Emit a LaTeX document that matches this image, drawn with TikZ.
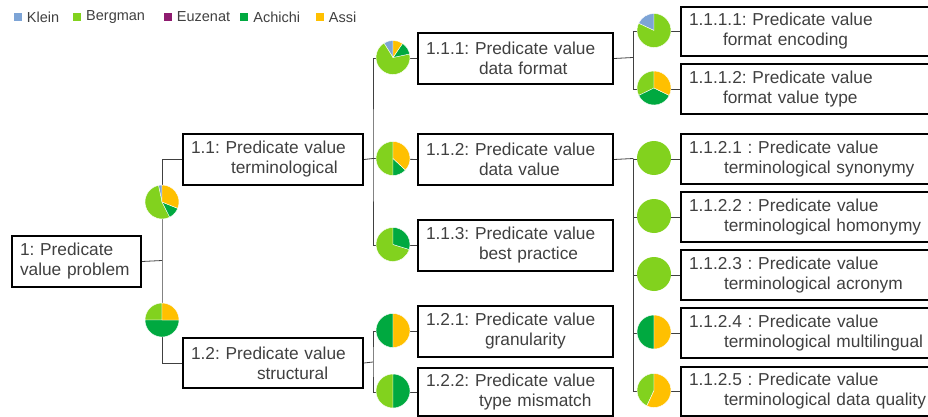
\documentclass[tikz,border=0pt]{standalone}
\usepackage{fontspec}
\setmainfont{Liberation Sans}
\usepackage{tikz}
\usetikzlibrary{positioning}
\frenchspacing

\definecolor{klein}{HTML}{7DA4D6}
\definecolor{bergman}{HTML}{82D21E}
\definecolor{euzenat}{HTML}{8E1B6F}
\definecolor{achichi}{HTML}{00A940}
\definecolor{assi}{HTML}{FFC000}
\definecolor{txt}{HTML}{404040}

\tikzset{
  box/.style={draw=black, line width=2pt, anchor=north west, align=left,
    inner xsep=8pt, inner ysep=0pt, minimum height=51pt, text=txt,
    font=\fontsize{17.3}{20}\selectfont},
  link/.style={draw=txt, line width=0.8pt},
  swatch/.style={minimum size=8pt, inner sep=0pt},
  key/.style={inner sep=0pt, text=txt, font=\fontsize{14.5}{16}\selectfont},
  slice/.style={draw=white, line width=0.4pt}
}

\begin{document}
\begin{tikzpicture}[x=1pt, y=1pt]

    \useasboundingbox (0,0) rectangle (928,-417);
    \clip (0,0) rectangle (928,-417);

    % legend
    \node[swatch, fill=klein] (sklein) at (17.5,-17) {};
    \node[key, right=5pt of sklein] (lklein) {Klein};
    \node[swatch, fill=bergman] (sbergman) at (76.8,-17) {};
    \node[key, right=5pt of sbergman] (lbergman) {Bergman};
    \node[swatch, fill=euzenat] (seuzenat) at (167.5,-17) {};
    \node[key, right=5pt of seuzenat] (leuzenat) {Euzenat};
    \node[swatch, fill=achichi] (sachichi) at (244,-17) {};
    \node[key, right=5pt of sachichi] (lachichi) {Achichi};
    \node[swatch, fill=assi] (sassi) at (319.5,-17) {};
    \node[key, right=5pt of sassi] (lassi) {Assi};

    % problem boxes
    \node[box, text width=113pt] (p1) at (11,-235) {1: Predicate\\value problem};

    \node[box, text width=164pt] (p11) at (182,-133) {1.1: Predicate value\\\hspace*{40pt}terminological};
    \node[box, text width=164pt, minimum height=50pt] (p12) at (182,-337) {1.2: Predicate value\\\hspace*{66pt}structural};

    \node[box, text width=179pt] (p111) at (417,-32) {1.1.1: Predicate value\\\hspace*{53pt}data format};
    \node[box, text width=179pt] (p112) at (417,-133) {1.1.2: Predicate value\\\hspace*{53pt}data value};
    \node[box, text width=179pt] (p113) at (417,-219) {1.1.3: Predicate value\\\hspace*{53pt}best practice};
    \node[box, text width=179pt] (p121) at (417,-305) {1.2.1: Predicate value\\\hspace*{59pt}granularity};
    \node[box, text width=179pt, minimum height=48pt] (p122) at (417,-367) {1.2.2: Predicate value\\\hspace*{53pt}type mismatch};

    \node[box, text width=244pt, minimum height=49pt] (p1111) at (680,-6) {1.1.1.1: Predicate value\\\hspace*{34pt}format encoding};
    \node[box, text width=244pt, minimum height=50pt] (p1112) at (680,-63) {1.1.1.2: Predicate value\\\hspace*{34pt}format value type};
    \node[box, text width=244pt, minimum height=50pt] (p1121) at (680,-133) {1.1.2.1 : Predicate value\\\hspace*{35pt}terminological synonymy};
    \node[box, text width=244pt, minimum height=50pt] (p1122) at (680,-191) {1.1.2.2 : Predicate value\\\hspace*{35pt}terminological homonymy};
    \node[box, text width=244pt, minimum height=50pt] (p1123) at (680,-249) {1.1.2.3 : Predicate value\\\hspace*{35pt}terminological acronym};
    \node[box, text width=244pt, minimum height=50pt] (p1124) at (680,-307) {1.1.2.4 : Predicate value\\\hspace*{35pt}terminological multilingual};
    \node[box, text width=244pt, minimum height=49pt] (p1125) at (680,-366) {1.1.2.5 : Predicate value\\\hspace*{35pt}terminological data quality};

    % branches
    \coordinate (b1) at (162,-260.5);
    \coordinate (b11) at (373,-158.5);
    \coordinate (b12) at (373,-362);
    \coordinate (b111) at (633,-57.5);
    \coordinate (b112) at (633,-158.5);

    \draw[link] (p1.east) -- (b1);
    \draw[link] (p11.west) -| (b1) |- (p12.west);

    \draw[link] (p11.east) -- (b11);
    \draw[link] (p111.west) -| (b11) |- (p113.west);
    \draw[link] (b11) -- (p112.west);
    \draw[link] (p12.east) -- (b12);
    \draw[link] (p121.west) -| (b12) |- (p122.west);

    \draw[link] (p111.east) -- (b111);
    \draw[link] (p1111.west) -| (b111) |- (p1112.west);
    \draw[link] (p112.east) -- (b112);
    \draw[link] (p1121.west) -| (b112) |- (p1125.west);
    \foreach \n in {1122,1123,1124}
      \draw[link] (p\n.west) -- (p\n.west -| b112);

    % pies
    \begin{scope}[shift={(162,-202)}]
      \foreach \a/\b/\c in {90/102/klein, 102/297/bergman, 297/338/achichi, 338/450/assi}
        \filldraw[slice, fill=\c] (0,0) -- (\a:17) arc (\a:\b:17) -- cycle;
    \end{scope}

    \begin{scope}[shift={(162,-320)}]
      \foreach \a/\b/\c in {90/180/bergman, 180/360/achichi, 360/450/assi}
        \filldraw[slice, fill=\c] (0,0) -- (\a:17) arc (\a:\b:17) -- cycle;
    \end{scope}

    \begin{scope}[shift={(393,-57.5)}]
      \foreach \a/\b/\c in {90/122/klein, 122/372/bergman, 372/416/achichi, 416/450/assi}
        \filldraw[slice, fill=\c] (0,0) -- (\a:17) arc (\a:\b:17) -- cycle;
    \end{scope}

    \begin{scope}[shift={(393,-158.5)}]
      \foreach \a/\b/\c in {90/270/bergman, 270/317/achichi, 317/450/assi}
        \filldraw[slice, fill=\c] (0,0) -- (\a:17) arc (\a:\b:17) -- cycle;
    \end{scope}

    \begin{scope}[shift={(393,-244.5)}]
      \foreach \a/\b/\c in {90/343/bergman, 343/450/achichi}
        \filldraw[slice, fill=\c] (0,0) -- (\a:17) arc (\a:\b:17) -- cycle;
    \end{scope}

    \begin{scope}[shift={(393,-330.5)}]
      \foreach \a/\b/\c in {90/270/achichi, 270/450/assi}
        \filldraw[slice, fill=\c] (0,0) -- (\a:17) arc (\a:\b:17) -- cycle;
    \end{scope}

    \begin{scope}[shift={(393,-391)}]
      \foreach \a/\b/\c in {90/270/bergman, 270/450/achichi}
        \filldraw[slice, fill=\c] (0,0) -- (\a:17) arc (\a:\b:17) -- cycle;
    \end{scope}

    \begin{scope}[shift={(654,-30.5)}]
      \foreach \a/\b/\c in {90/155/klein, 155/450/bergman}
        \filldraw[slice, fill=\c] (0,0) -- (\a:17) arc (\a:\b:17) -- cycle;
    \end{scope}

    \begin{scope}[shift={(654,-88)}]
      \foreach \a/\b/\c in {90/206/bergman, 206/334/achichi, 334/450/assi}
        \filldraw[slice, fill=\c] (0,0) -- (\a:17) arc (\a:\b:17) -- cycle;
    \end{scope}

    \foreach \y in {158,216,274}
      \fill[bergman] (654,-\y) circle (17);

    \begin{scope}[shift={(654,-332)}]
      \foreach \a/\b/\c in {90/270/achichi, 270/450/assi}
        \filldraw[slice, fill=\c] (0,0) -- (\a:17) arc (\a:\b:17) -- cycle;
    \end{scope}

    \begin{scope}[shift={(654,-390.5)}]
      \foreach \a/\b/\c in {90/245/bergman, 245/450/assi}
        \filldraw[slice, fill=\c] (0,0) -- (\a:17) arc (\a:\b:17) -- cycle;
    \end{scope}

  \end{tikzpicture}
\end{document}
